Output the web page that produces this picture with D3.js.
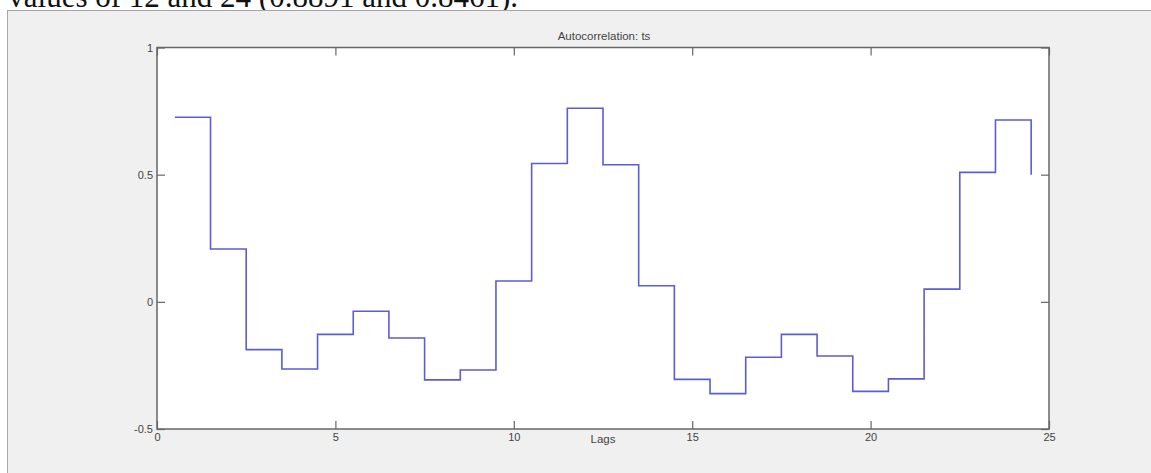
<!DOCTYPE html>
<html>
<head>
<meta charset="utf-8">
<script src="https://cdn.jsdelivr.net/npm/d3@7"></script>
<style>
  html, body { margin: 0; padding: 0; background: #ffffff; }
  svg { display: block; }
</style>
</head>
<body>
<svg id="chart" width="1151" height="473"></svg>
<script>
// ---- data ----
const lags = [1,2,3,4,5,6,7,8,9,10,11,12,13,14,15,16,17,18,19,20,21,22,23,24];
const acf = [0.726, 0.208, -0.188, -0.264, -0.128, -0.037, -0.142, -0.307, -0.268, 0.082,
             0.544, 0.761, 0.539, 0.063, -0.305, -0.361, -0.218, -0.128, -0.213, -0.352,
             -0.303, 0.050, 0.509, 0.715];
const endValue = 0.500;
const xTicks = [0, 5, 10, 15, 20, 25];
const yTicks = [-0.5, 0, 0.5, 1];
const yTickLabels = ["-0.5", "0", "0.5", "1"];
const titleText = "Autocorrelation: ts";
const xLabelText = "Lags";
const captionText = "values of 12 and 24 (0.8891 and 0.8461).";

// ---- layout ----
const svg = d3.select("#chart");
const W = 1151, H = 473;
const plot = { left: 157, right: 1049, top: 47.5, bottom: 429 };

// page caption (cut off at top, as in the source screenshot)
const cap = svg.append("text")
  .attr("y", 7)
  .attr("font-family", "'Liberation Serif', 'Times New Roman', serif")
  .attr("font-size", 31)
  .attr("fill", "#111")
  .text(captionText);
const capLen = cap.node().getComputedTextLength();
cap.attr("x", 518 - capLen);

// figure background
svg.append("rect")
  .attr("x", 7.5).attr("y", 10.5)
  .attr("width", W).attr("height", H)
  .attr("fill", "#f0f0f0")
  .attr("stroke", "#a8a8a8").attr("stroke-width", 1);

const x = d3.scaleLinear().domain([0, 25]).range([plot.left, plot.right]);
const y = d3.scaleLinear().domain([-0.5, 1]).range([plot.bottom, plot.top]);

// axes background
svg.append("rect")
  .attr("x", plot.left).attr("y", plot.top)
  .attr("width", plot.right - plot.left).attr("height", plot.bottom - plot.top)
  .attr("fill", "#ffffff");

// data step line
const pts = [];
lags.forEach((l, i) => {
  pts.push([l - 0.5, acf[i]]);
  pts.push([l + 0.5, acf[i]]);
});
pts.push([lags[lags.length - 1] + 0.5, endValue]);
const line = d3.line().x(d => x(d[0])).y(d => y(d[1]));
svg.append("path")
  .attr("d", line(pts))
  .attr("fill", "none")
  .attr("stroke", "#5c5cd6")
  .attr("stroke-width", 1.6);

const axisColor = "#666";
const tickLen = 8;
const labelFont = "'Liberation Sans', Arial, sans-serif";

// axes with D3 (inward ticks, no domain path)
const gxB = svg.append("g").attr("transform", `translate(0,${plot.bottom})`)
  .call(d3.axisBottom(x).tickValues(xTicks).tickSizeInner(-tickLen).tickSizeOuter(0).tickPadding(4).tickFormat(d3.format("d")));
const gxT = svg.append("g").attr("transform", `translate(0,${plot.top})`)
  .call(d3.axisTop(x).tickValues(xTicks).tickSizeInner(-tickLen).tickSizeOuter(0).tickFormat(""));
const gyL = svg.append("g").attr("transform", `translate(${plot.left},0)`)
  .call(d3.axisLeft(y).tickValues(yTicks).tickSizeInner(-tickLen).tickSizeOuter(0).tickPadding(4)
        .tickFormat((d, i) => yTickLabels[i]));
const gyR = svg.append("g").attr("transform", `translate(${plot.right},0)`)
  .call(d3.axisRight(y).tickValues(yTicks).tickSizeInner(-tickLen).tickSizeOuter(0).tickFormat(""));

[gxB, gxT, gyL, gyR].forEach(g => {
  g.select(".domain").remove();
  g.selectAll(".tick line").attr("stroke", axisColor).attr("stroke-width", 1.2);
  g.selectAll(".tick text").attr("fill", "#444").attr("font-family", labelFont).attr("font-size", 11);
});

// axes frame
svg.append("rect")
  .attr("x", plot.left).attr("y", plot.top)
  .attr("width", plot.right - plot.left).attr("height", plot.bottom - plot.top)
  .attr("fill", "none")
  .attr("stroke", axisColor).attr("stroke-width", 1.5);

// title
svg.append("text")
  .attr("x", (plot.left + plot.right) / 2 + 1).attr("y", plot.top - 7.5)
  .attr("text-anchor", "middle")
  .attr("font-family", labelFont).attr("font-size", 11.5).attr("fill", "#444")
  .text(titleText);

// x label
svg.append("text")
  .attr("x", (plot.left + plot.right) / 2).attr("y", plot.bottom + 14)
  .attr("text-anchor", "middle")
  .attr("font-family", labelFont).attr("font-size", 11.5).attr("fill", "#444")
  .text(xLabelText);
</script>
</body>
</html>
